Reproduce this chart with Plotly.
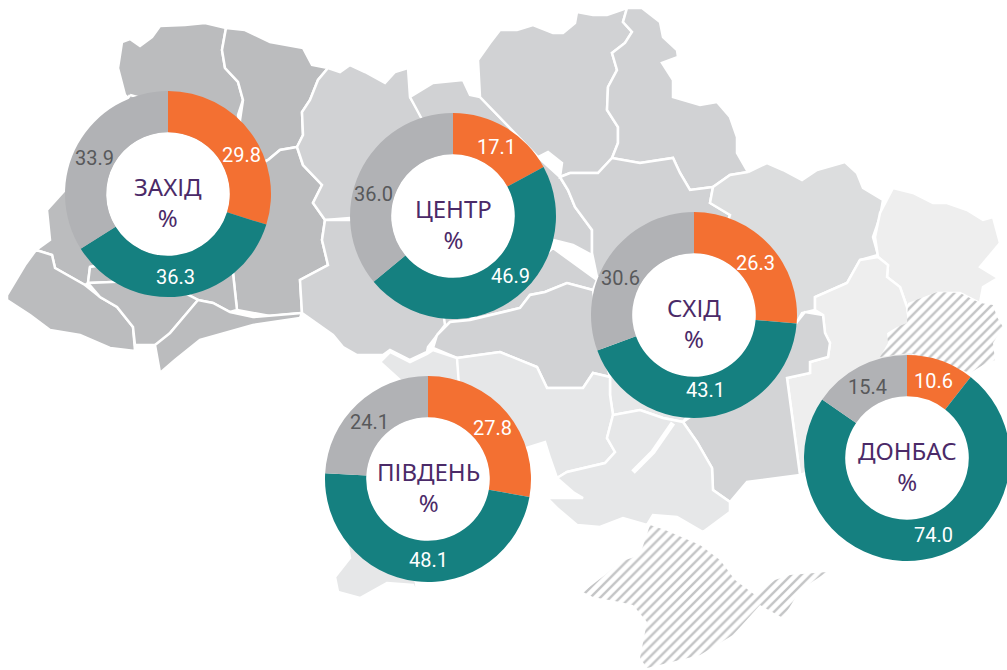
import plotly.graph_objects as go

# ---------- chart data ----------
region_names = ["ЗАХІД", "ЦЕНТР", "СХІД", "ПІВДЕНЬ", "ДОНБАС"]
answer_labels = ["Помаранчевий", "Бірюзовий", "Сірий"]
zakhid_values = [29.8, 36.3, 33.9]
tsentr_values = [17.1, 46.9, 36.0]
skhid_values = [26.3, 43.1, 30.6]
pivden_values = [27.8, 48.1, 24.1]
donbas_values = [10.6, 74.0, 15.4]

# ---------- map outlines (decorative backdrop, image pixels) ----------
volyn = [(122,42),(130,39),(140,46),(152,37),(160,26),(185,25),(205,23),(226,28),(222,50),(225,68),(238,82),(243,100),(238,115),(240,125),(200,200),(130,100),(125,95),(118,68)]
lviv = [(130,95),(240,125),(240,250),(90,267),(88,283),(85,285),(55,268),(52,255),(36,250),(50,240),(47,210),(65,190)]
rivne = [(226,28),(245,30),(270,42),(303,48),(312,65),(328,68),(318,80),(310,100),(302,112),(303,135),(297,147),(280,150),(268,160),(240,170),(240,120),(243,100),(238,82),(225,68),(222,50)]
khmel = [(268,160),(280,150),(297,147),(303,165),(322,185),(313,203),(325,220),(322,240),(328,265),(300,280),(302,313),(270,316),(237,310),(233,273),(200,200)]
zakarp = [(7,295),(25,265),(36,250),(52,255),(55,268),(85,285),(100,297),(117,307),(133,327),(135,345),(135,351),(110,348),(80,335),(50,330),(30,315),(7,300)]
frank = [(88,283),(100,297),(117,307),(133,327),(135,345),(155,345),(160,372),(170,333),(198,300),(160,280)]
cherniv = [(160,373),(175,360),(200,340),(235,330),(253,325),(300,318),(302,313),(253,317),(230,312),(213,303),(198,300),(170,333),(155,345)]
ternop = [(90,267),(88,283),(160,280),(198,300),(213,303),(230,312),(237,310),(233,273),(200,250)]
zhytomyr = [(328,68),(340,72),(350,65),(365,72),(385,83),(395,72),(408,68),(410,97),(418,110),(425,125),(430,220),(350,218),(325,220),(313,203),(322,185),(303,165),(297,147),(303,135),(302,112),(310,100),(318,80)]
kyiv = [(410,97),(433,83),(463,80),(470,95),(480,97),(538,157),(560,177),(568,190),(575,207),(592,230),(592,255),(573,245),(553,240),(470,320),(450,322),(437,335),(430,220),(425,125)]
cherkasy = [(553,248),(577,265),(597,280),(593,290),(567,283),(545,292),(530,295),(520,308),(470,320)]
vinnyts = [(325,220),(430,220),(445,325),(437,335),(428,347),(427,352),(410,360),(390,350),(383,355),(357,355),(343,347),(333,335),(302,313),(300,280),(328,265),(322,240)]
chernih = [(480,97),(478,60),(490,43),(500,30),(517,30),(533,25),(553,33),(563,33),(575,23),(577,12),(593,15),(607,15),(627,8),(623,22),(632,32),(625,43),(612,53),(617,70),(608,87),(607,110),(618,127),(618,143),(612,158),(598,173),(570,173),(560,177),(562,163),(548,152),(538,157)]
sumy = [(627,8),(642,8),(660,22),(663,37),(677,50),(678,57),(662,63),(673,80),(673,97),(700,105),(717,102),(730,117),(737,137),(737,153),(748,172),(730,175),(713,187),(690,190),(680,173),(673,158),(640,163),(612,158),(618,143),(618,127),(607,110),(608,87),(617,70),(612,53),(625,43),(632,32),(623,22)]
poltava = [(560,177),(570,173),(598,173),(612,158),(640,163),(673,158),(680,173),(690,190),(713,187),(710,203),(730,215),(730,310),(597,277),(592,253),(592,230),(575,207),(568,190)]
kirovoh = [(437,335),(450,322),(470,320),(520,308),(530,295),(545,292),(567,283),(593,290),(600,340),(610,377),(593,373),(583,388),(547,388),(537,367),(500,352),(457,358),(433,348)]
kharkiv = [(748,172),(767,163),(783,170),(802,180),(817,170),(845,162),(857,173),(863,188),(883,200),(880,217),(873,237),(878,255),(860,260),(847,283),(815,297),(815,310),(802,313),(797,322),(700,300),(730,215),(710,203),(713,187),(730,175)]
luhansk = [(893,188),(913,193),(933,203),(947,203),(967,210),(983,220),(993,217),(1000,243),(980,267),(998,278),(983,287),(980,303),(960,293),(937,293),(907,307),(900,287),(887,277),(888,265),(878,257),(875,237),(880,213),(885,203)]
donetsk = [(878,257),(860,260),(847,283),(815,297),(815,310),(823,315),(825,333),(830,343),(828,357),(810,362),(810,373),(787,378),(800,475),(830,465),(900,420),(920,400),(907,307),(900,287),(887,277),(888,265)]
dnipro = [(610,377),(610,395),(613,415),(640,410),(663,418),(683,422),(700,400),(700,330),(620,330)]
zaporizh = [(683,422),(697,442),(712,468),(713,490),(730,502),(747,482),(800,475),(787,378),(810,373),(810,362),(828,357),(830,343),(825,333),(823,315),(805,312),(797,322),(760,390),(700,410)]
odesa = [(380,362),(390,352),(410,362),(427,354),(433,350),(457,358),(460,380),(500,400),(490,510),(415,575),(418,598),(413,585),(387,583),(360,598),(338,592),(335,577),(350,558),(340,500),(400,380)]
mykolaiv = [(457,358),(500,352),(537,367),(547,388),(583,388),(593,373),(610,377),(610,395),(613,415),(607,438),(615,452),(605,463),(567,472),(557,478),(550,458),(545,442),(520,450),(460,400)]
kherson = [(557,478),(567,472),(605,463),(615,452),(607,438),(613,415),(640,410),(663,418),(683,422),(697,442),(712,468),(713,490),(730,502),(730,512),(703,532),(677,517),(653,515),(647,525),(623,518),(600,527),(577,525),(557,508),(547,498),(583,498),(573,492)]
hatch_east = [(887,333),(897,327),(907,323),(908,303),(937,292),(960,293),(980,303),(993,305),(997,317),(1003,327),(993,343),(995,360),(983,365),(970,373),(910,353),(880,357),(888,343)]
crimea = [(583,592),(605,575),(620,562),(640,555),(650,525),(665,530),(700,545),(720,560),(735,580),(755,595),(775,580),(790,575),(827,572),(800,590),(783,618),(760,605),(733,635),(700,655),(647,668),(640,658),(647,622),(633,605),(620,602),(593,597)]
kakhovka_river = [(673,423),(663,437),(653,452),(640,465),(633,472)]

map_layers = [
    (volyn, "#bbbcbe"), (rivne, "#bbbcbe"), (lviv, "#bbbcbe"), (khmel, "#bbbcbe"),
    (ternop, "#bbbcbe"), (zakarp, "#bbbcbe"), (frank, "#bbbcbe"), (cherniv, "#bbbcbe"),
    (zhytomyr, "#d1d2d4"), (kyiv, "#d1d2d4"), (cherkasy, "#d1d2d4"), (vinnyts, "#d1d2d4"),
    (chernih, "#d1d2d4"), (sumy, "#d1d2d4"), (poltava, "#d1d2d4"), (kirovoh, "#d1d2d4"),
    (kharkiv, "#dcddde"), (luhansk, "#eeeeee"), (donetsk, "#eeeeee"),
    (dnipro, "#e6e7e8"), (zaporizh, "#d3d4d6"), (odesa, "#e6e7e8"),
    (mykolaiv, "#e6e7e8"), (kherson, "#e6e7e8"),
]

fig = go.Figure()
for outline, colour in map_layers:
    fig.add_trace(go.Scatter(
        x=[p[0] for p in outline] + [outline[0][0]],
        y=[p[1] for p in outline] + [outline[0][1]],
        mode="lines", fill="toself", fillcolor=colour,
        line=dict(color="white", width=2.5), hoverinfo="skip", showlegend=False))
fig.add_trace(go.Scatter(x=[p[0] for p in kakhovka_river], y=[p[1] for p in kakhovka_river],
                         mode="lines", line=dict(color="white", width=5),
                         hoverinfo="skip", showlegend=False))
for outline in (hatch_east, crimea):
    fig.add_trace(go.Scatter(
        x=[p[0] for p in outline] + [outline[0][0]],
        y=[p[1] for p in outline] + [outline[0][1]],
        mode="lines", fill="toself", fillcolor="white",
        fillpattern=dict(shape="/", size=7, solidity=0.35, fgcolor="#8a8b8d", bgcolor="white"),
        line=dict(color="rgba(255,255,255,0)", width=0), hoverinfo="skip", showlegend=False))

W, H = 1020, 670
donuts = [
    (zakhid_values, 168, 194, [(241,155), (175,277), (94,158)]),
    (tsentr_values, 453, 216, [(496,147), (510,276), (373,194)]),
    (skhid_values, 694, 315, [(755,263), (705,390), (620,278)]),
    (pivden_values, 428, 479, [(492,428), (428,560), (369,422)]),
    (donbas_values, 907, 458, [(933,381), (933,535), (867,387)]),
]
R = 103
value_colours = ["white", "white", "#58595b"]
for name, (vals, cx, cy, spots) in zip(region_names, donuts):
    fig.add_trace(go.Scatter(x=[cx], y=[cy], mode="markers",
                             marker=dict(size=124, color="white", line=dict(width=0)),
                             hoverinfo="skip", showlegend=False))
    fig.add_trace(go.Pie(
        labels=answer_labels, values=vals, sort=False, direction="clockwise", rotation=0,
        hole=0.6,
        marker=dict(colors=["#f37032", "#158080", "#b1b2b5"], line=dict(width=0)),
        textinfo="none",
        domain=dict(x=[(cx-R)/W, (cx+R)/W], y=[1-(cy+R)/H, 1-(cy-R)/H]),
        hoverinfo="skip", showlegend=False, name=name))
    fig.add_annotation(x=cx/W, y=1-cy/H, xref="paper", yref="paper", showarrow=False,
                       xanchor="center", yanchor="middle", yshift=-8,
                       text=f"{name}<br>%", align="center",
                       font=dict(family="Noto Sans", size=24, color="#4b2a68"))
    for v, (sx, sy), c in zip(vals, spots, value_colours):
        fig.add_annotation(x=sx/W, y=1-sy/H, xref="paper", yref="paper", showarrow=False,
                           xanchor="center", yanchor="middle", text=f"{v:.1f}",
                           font=dict(family="Roboto", size=20, color=c))

fig.update_layout(
    width=W, height=H, margin=dict(l=0, r=0, t=0, b=0),
    paper_bgcolor="white", plot_bgcolor="white", showlegend=False,
    xaxis=dict(range=[0, W], visible=False, fixedrange=True),
    yaxis=dict(range=[H, 0], visible=False, fixedrange=True),
)
fig.write_html("out.html", config=dict(displayModeBar=False),
               post_script="document.documentElement.style.overflow='hidden';document.body.style.overflow='hidden';document.body.style.margin='0';")
